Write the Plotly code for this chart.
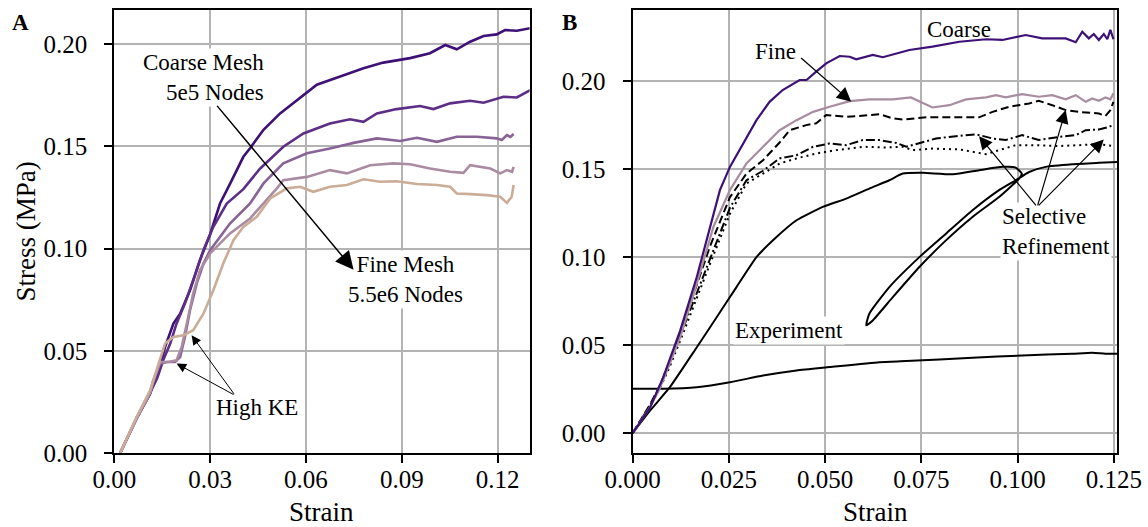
import plotly.graph_objects as go

# ---------------- Panel A : mesh convergence ----------------
a1_strain = [0.0018, 0.007, 0.0112, 0.0122, 0.0143, 0.0159, 0.0185, 0.0206, 0.0237, 0.0268, 0.030, 0.0331,
             0.0363, 0.0404, 0.0425, 0.0467, 0.0519, 0.0571, 0.0634, 0.0707, 0.078, 0.0842, 0.0926, 0.0988,
             0.1036, 0.1072, 0.1114, 0.1156, 0.1197, 0.1223, 0.126, 0.1302]
a1_stress = [0.0, 0.017, 0.029, 0.034, 0.042, 0.052, 0.0634, 0.0682, 0.0796, 0.0943, 0.107, 0.122,
             0.1318, 0.1448, 0.149, 0.158, 0.166, 0.1725, 0.180, 0.184, 0.188, 0.1908, 0.193, 0.1954,
             0.1994, 0.1973, 0.201, 0.2038, 0.2046, 0.2067, 0.2064, 0.2076]

a2_strain = [0.0018, 0.007, 0.0112, 0.0135, 0.0153, 0.0175, 0.0195, 0.0221, 0.0247, 0.0279, 0.031, 0.0352,
             0.0404, 0.0456, 0.0529, 0.0592, 0.0675, 0.0738, 0.078, 0.0822, 0.0884, 0.0957, 0.0999, 0.1051,
             0.1114, 0.1156, 0.1218, 0.126, 0.1302]
a2_stress = [0.0, 0.0175, 0.0295, 0.037, 0.0454, 0.0536, 0.0634, 0.0731, 0.0845, 0.0992, 0.1106, 0.122,
             0.129, 0.139, 0.1497, 0.1562, 0.1611, 0.1631, 0.1619, 0.166, 0.1681, 0.1696, 0.1681, 0.1709,
             0.1722, 0.1712, 0.1741, 0.1738, 0.1774]

a3_strain = [0.0018, 0.007, 0.0112, 0.0122, 0.0143, 0.0164, 0.019, 0.0206, 0.0221, 0.0237, 0.0258, 0.0279,
             0.030, 0.0362, 0.0425, 0.0467, 0.0529, 0.0603, 0.0675, 0.0749, 0.0822, 0.0895, 0.0947, 0.101,
             0.1072, 0.1135, 0.1197, 0.1213, 0.1229, 0.124, 0.125]
a3_stress = [0.0, 0.017, 0.0295, 0.0356, 0.0438, 0.0446, 0.0446, 0.047, 0.0568, 0.0699, 0.0829, 0.0927,
             0.0992, 0.1122, 0.122, 0.1318, 0.1416, 0.1465, 0.1489, 0.1516, 0.1538, 0.1525, 0.1541, 0.1521,
             0.1546, 0.1546, 0.1538, 0.153, 0.1554, 0.1545, 0.1559]

a4_strain = [0.0018, 0.007, 0.0112, 0.0122, 0.0143, 0.0169, 0.0195, 0.0211, 0.0227, 0.0247, 0.0268, 0.030,
             0.0362, 0.0425, 0.0509, 0.0529, 0.0603, 0.0675, 0.0728, 0.0801, 0.0874, 0.0926, 0.0988, 0.1051,
             0.1093, 0.1114, 0.1177, 0.1208, 0.1229, 0.1245, 0.125]
a4_stress = [0.0, 0.017, 0.0295, 0.035, 0.0446, 0.0446, 0.0454, 0.0519, 0.0634, 0.078, 0.0894, 0.0976,
             0.1074, 0.1147, 0.1294, 0.1334, 0.135, 0.1383, 0.1367, 0.1407, 0.1416, 0.1412, 0.1391, 0.1375,
             0.137, 0.1407, 0.1391, 0.1367, 0.1383, 0.1375, 0.1399]

a5_strain = [0.0018, 0.007, 0.0112, 0.0138, 0.0159, 0.0185, 0.0216, 0.0247, 0.0279, 0.031, 0.0341, 0.0373,
             0.0404, 0.0446, 0.0488, 0.054, 0.0582, 0.0623, 0.0675, 0.0728, 0.078, 0.0832, 0.0884, 0.0947,
             0.101, 0.1051, 0.1072, 0.1114, 0.1166, 0.1208, 0.1229, 0.1244, 0.125]
a5_stress = [0.0, 0.0177, 0.0308, 0.0438, 0.0536, 0.0568, 0.0576, 0.0601, 0.0682, 0.0796, 0.0927, 0.1041,
             0.1106, 0.1155, 0.1245, 0.1294, 0.1302, 0.1277, 0.1302, 0.131, 0.1338, 0.1326, 0.1329, 0.1315,
             0.131, 0.1302, 0.1269, 0.1266, 0.1261, 0.1253, 0.1223, 0.1253, 0.131]

a_colors = ["#3d1175", "#5c2e86", "#886396", "#aa8ca2", "#caac97"]

# ---------------- Panel B : selective refinement ----------------
b_coarse_strain = [0, 0.0046, 0.008, 0.0124, 0.0167, 0.0201, 0.0227, 0.0253, 0.0287, 0.0322, 0.0356, 0.039,
                   0.0434, 0.0452, 0.0477, 0.0503, 0.0538, 0.0564, 0.0581, 0.0624, 0.065, 0.0719, 0.0779,
                   0.0849, 0.0918, 0.0961, 0.1021, 0.1064, 0.1125, 0.1151, 0.1168, 0.1185, 0.1198, 0.1211,
                   0.1224, 0.1233, 0.1241, 0.1249]
b_coarse_stress = [0, 0.0148, 0.0319, 0.0584, 0.0887, 0.1171, 0.138, 0.1512, 0.1645, 0.1777, 0.1881, 0.1948,
                   0.2005, 0.2005, 0.2052, 0.2099, 0.2141, 0.2137, 0.2122, 0.2147, 0.2134, 0.2175, 0.2194,
                   0.2222, 0.2236, 0.2232, 0.226, 0.2241, 0.2241, 0.2219, 0.2279, 0.2241, 0.2266, 0.2232,
                   0.2266, 0.2236, 0.2289, 0.2236]

b_fine_strain = [0, 0.0046, 0.0072, 0.0124, 0.0167, 0.021, 0.0253, 0.0296, 0.0339, 0.0382, 0.0426, 0.0469,
                 0.0512, 0.0564, 0.0615, 0.0676, 0.0723, 0.0779, 0.0823, 0.0866, 0.0918, 0.0944, 0.0969,
                 0.1012, 0.1055, 0.109, 0.1125, 0.1151, 0.1177, 0.1194, 0.1211, 0.1228, 0.1241, 0.1249]
b_fine_stress = [0, 0.015, 0.0262, 0.0546, 0.0849, 0.1171, 0.138, 0.1531, 0.1626, 0.172, 0.1777, 0.1824,
                 0.1853, 0.1885, 0.1895, 0.1895, 0.1906, 0.1849, 0.1862, 0.1895, 0.1906, 0.1919, 0.1906,
                 0.1925, 0.191, 0.1919, 0.1895, 0.1919, 0.1881, 0.19, 0.1887, 0.1906, 0.1895, 0.193]

b_sel1_strain = [0, 0.0046, 0.0072, 0.0097, 0.0132, 0.0167, 0.0201, 0.0253, 0.0296, 0.0339, 0.0382, 0.0408,
                 0.0451, 0.0477, 0.0503, 0.0555, 0.0589, 0.0641, 0.0676, 0.0702, 0.0763, 0.0831, 0.09,
                 0.0935, 0.0978, 0.103, 0.1055, 0.109, 0.1125, 0.1159, 0.1211, 0.1228, 0.1241, 0.1249]
b_sel1_stress = [0, 0.0165, 0.0275, 0.041, 0.062, 0.085, 0.106, 0.134, 0.1474, 0.155, 0.165, 0.172,
                 0.1749, 0.1759, 0.1806, 0.1796, 0.18, 0.1811, 0.1787, 0.1781, 0.1793, 0.1793, 0.1793,
                 0.1824, 0.1853, 0.1872, 0.1887, 0.1862, 0.1834, 0.1824, 0.1815, 0.18, 0.1834, 0.1881]

b_sel2_strain = [0, 0.0046, 0.0072, 0.0097, 0.0132, 0.0167, 0.0201, 0.0253, 0.0296, 0.0339, 0.0382, 0.0426,
                 0.0469, 0.0512, 0.0555, 0.0598, 0.0641, 0.0685, 0.0711, 0.0746, 0.0788, 0.084, 0.0892,
                 0.0935, 0.0969, 0.1012, 0.1055, 0.1107, 0.1151, 0.1177, 0.1211, 0.1233, 0.1249]
b_sel2_stress = [0, 0.016, 0.027, 0.04, 0.06, 0.08, 0.099, 0.128, 0.1436, 0.149, 0.156, 0.1578,
                 0.1626, 0.1645, 0.1635, 0.1664, 0.1664, 0.1648, 0.1626, 0.1648, 0.1673, 0.1686, 0.1697,
                 0.1673, 0.1664, 0.1692, 0.1664, 0.1682, 0.1692, 0.172, 0.1724, 0.1736, 0.1749]

b_sel3_strain = [0, 0.0046, 0.0072, 0.0097, 0.0132, 0.0167, 0.0201, 0.0253, 0.0296, 0.0339, 0.0382, 0.0426,
                 0.0477, 0.0529, 0.0598, 0.0659, 0.0702, 0.0728, 0.0779, 0.0849, 0.0883, 0.0918, 0.0952,
                 0.0995, 0.1055, 0.1107, 0.1159, 0.1211, 0.1249]
b_sel3_stress = [0, 0.0155, 0.026, 0.038, 0.057, 0.077, 0.096, 0.1246, 0.1418, 0.1474, 0.1531, 0.156,
                 0.1588, 0.1607, 0.1626, 0.1622, 0.1626, 0.1607, 0.1616, 0.1611, 0.1597, 0.1584, 0.1607,
                 0.1635, 0.1635, 0.163, 0.1635, 0.1641, 0.163]

exp_strain = [0, 0.0046, 0.0097, 0.0167, 0.0219, 0.027, 0.0322, 0.0374, 0.0426, 0.0494, 0.0555, 0.0615,
              0.0667, 0.0702, 0.0754, 0.0832, 0.09, 0.0961, 0.0995, 0.1011, 0.1004, 0.0952, 0.0883, 0.0814,
              0.0745, 0.0676, 0.0624, 0.0607, 0.0615, 0.0667, 0.0745, 0.0814, 0.0883, 0.0952, 0.0995, 0.103,
              0.1073, 0.1142, 0.1211, 0.1259]
exp_stress = [0, 0.013, 0.0262, 0.0489, 0.066, 0.083, 0.1, 0.1114, 0.1209, 0.1285, 0.1332, 0.1389,
              0.1436, 0.1474, 0.1478, 0.147, 0.1493, 0.1512, 0.1508, 0.1474, 0.1446, 0.1341, 0.1228, 0.1095,
              0.0944, 0.0773, 0.0641, 0.0613, 0.0679, 0.083, 0.1, 0.1133, 0.1266, 0.138, 0.1436, 0.1483,
              0.1512, 0.1527, 0.1535, 0.154]

exp_low_strain = [0, 0.008, 0.0167, 0.0253, 0.0339, 0.0426, 0.0512, 0.0641, 0.071, 0.0883, 0.1012, 0.1142,
                  0.1194, 0.1228, 0.1259]
exp_low_stress = [0.0253, 0.0253, 0.0262, 0.029, 0.0328, 0.0357, 0.0376, 0.0404, 0.041, 0.0429, 0.0442, 0.0452,
                  0.0457, 0.0452, 0.0452]

a_xticks = [0.0, 0.03, 0.06, 0.09, 0.12]
b_xticks = [0.0, 0.025, 0.05, 0.075, 0.1, 0.125]
yticks = [0.0, 0.05, 0.10, 0.15, 0.20]

FONT = "Liberation Serif, DejaVu Serif, serif"
W, H = 1148, 527

fig = go.Figure()

for xs, ys, c in zip([a1_strain, a2_strain, a3_strain, a4_strain, a5_strain],
                     [a1_stress, a2_stress, a3_stress, a4_stress, a5_stress], a_colors):
    fig.add_trace(go.Scatter(x=xs, y=ys, mode="lines", line=dict(color=c, width=2.6),
                             xaxis="x", yaxis="y", showlegend=False))

fig.add_trace(go.Scatter(x=exp_low_strain, y=exp_low_stress, mode="lines",
                         line=dict(color="black", width=2, shape="spline", smoothing=0.5),
                         xaxis="x2", yaxis="y2", showlegend=False))
fig.add_trace(go.Scatter(x=exp_strain, y=exp_stress, mode="lines",
                         line=dict(color="black", width=2, shape="spline", smoothing=0.5),
                         xaxis="x2", yaxis="y2", showlegend=False))
fig.add_trace(go.Scatter(x=b_sel3_strain, y=b_sel3_stress, mode="lines",
                         line=dict(color="black", width=2, dash="2px,4px"),
                         xaxis="x2", yaxis="y2", showlegend=False))
fig.add_trace(go.Scatter(x=b_sel2_strain, y=b_sel2_stress, mode="lines",
                         line=dict(color="black", width=2, dash="9px,3px,2px,3px"),
                         xaxis="x2", yaxis="y2", showlegend=False))
fig.add_trace(go.Scatter(x=b_sel1_strain, y=b_sel1_stress, mode="lines",
                         line=dict(color="black", width=2, dash="8px,4px"),
                         xaxis="x2", yaxis="y2", showlegend=False))
fig.add_trace(go.Scatter(x=b_fine_strain, y=b_fine_stress, mode="lines",
                         line=dict(color="#a88c9f", width=2.2),
                         xaxis="x2", yaxis="y2", showlegend=False))
fig.add_trace(go.Scatter(x=b_coarse_strain, y=b_coarse_stress, mode="lines",
                         line=dict(color="#3d1175", width=2.2),
                         xaxis="x2", yaxis="y2", showlegend=False))

axis_common = dict(showgrid=True, gridcolor="#b3b3b3", gridwidth=1.5, showline=True, mirror=True,
                   linecolor="black", linewidth=2, ticks="outside", ticklen=8, tickwidth=1.6,
                   tickcolor="black", zeroline=False, automargin=False,
                   tickfont=dict(family=FONT, size=25, color="black"))

ydom = [(H - 453.3) / H, (H - 10) / H]
fig.update_layout(
    width=W, height=H, margin=dict(l=0, r=0, t=0, b=0),
    paper_bgcolor="white", plot_bgcolor="white",
    font=dict(family=FONT, color="black"),
    xaxis=dict(domain=[114.3 / W, 529.6 / W], range=[0, 0.13], anchor="y",
               tickvals=a_xticks, tickformat=".2f", ticklabelstandoff=-5, **axis_common),
    yaxis=dict(domain=ydom, range=[0, 0.2165], anchor="x", tickvals=yticks, tickformat=".2f",
               ticklabelstandoff=12, **axis_common),
    xaxis2=dict(domain=[632.5 / W, 1117.3 / W], range=[0, 0.1259], anchor="y2",
                tickvals=b_xticks, tickformat=".3f", ticklabelstandoff=-5, **axis_common),
    yaxis2=dict(domain=ydom, range=[-0.0113, 0.2402], anchor="x2", tickvals=yticks, tickformat=".2f",
                ticklabelstandoff=12, **axis_common),
)

ann = []
TF = dict(family=FONT, size=23, color="black")


def text(x, y, t, xref, yref, **kw):
    d = dict(x=x, y=y, text=t, xref=xref, yref=yref, showarrow=False, font=TF, borderpad=1,
             xanchor="center", yanchor="middle")
    d.update(kw)
    ann.append(d)


def arrow(tail, tip, xref, yref, size, width):
    ann.append(dict(x=tip[0], y=tip[1], ax=tail[0], ay=tail[1], xref=xref, yref=yref,
                    axref=xref, ayref=yref, text="", showarrow=True, arrowhead=2,
                    arrowsize=size, arrowwidth=width, arrowcolor="black", standoff=0, startstandoff=0))


# panel A texts and arrows
text(0.0475, 0.1834, "Coarse Mesh<br>5e5 Nodes", "x", "y", xanchor="right", align="right", bgcolor="white")
text(0.0912, 0.0848, "Fine Mesh<br>5.5e6 Nodes", "x", "y", align="center", bgcolor="white")
text(0.0448, 0.0226, "High KE", "x", "y")
arrow((0.0318, 0.1704), (0.0749, 0.0897), "x", "y", 2.4, 1.5)
arrow((0.0378, 0.0283), (0.0195, 0.0438), "x", "y", 1.9, 1.0)
arrow((0.0378, 0.0283), (0.0242, 0.0576), "x", "y", 1.9, 1.0)

# panel B texts and arrows
text(0.0849, 0.2289, "Coarse", "x2", "y2")
text(0.0372, 0.2169, "Fine", "x2", "y2")
text(0.0407, 0.0584, "Experiment", "x2", "y2", bgcolor="white")
text(0.0955, 0.1144, "Selective<br>Refinement", "x2", "y2", xanchor="left", align="left", bgcolor="white")
arrow((0.0434, 0.2137), (0.0568, 0.1881), "x2", "y2", 2.2, 1.3)
arrow((0.1051, 0.1285), (0.0900, 0.1686), "x2", "y2", 2.2, 1.2)
arrow((0.1051, 0.1285), (0.1125, 0.1834), "x2", "y2", 2.2, 1.2)
arrow((0.1051, 0.1285), (0.1224, 0.1668), "x2", "y2", 2.2, 1.2)

# axis titles and panel letters
AF = dict(family=FONT, size=27, color="black")
text(321.9 / W, 1 - 512 / H, "Strain", "paper", "paper", font=AF)
text(875.0 / W, 1 - 512 / H, "Strain", "paper", "paper", font=AF)
text(26 / W, 1 - 231.6 / H, "Stress (MPa)", "paper", "paper", font=AF, textangle=-90)
text(20.5 / W, 1 - 22 / H, "<b>A</b>", "paper", "paper", font=dict(family=FONT, size=23, color="black"))
text(569 / W, 1 - 22 / H, "<b>B</b>", "paper", "paper", font=dict(family=FONT, size=23, color="black"))

fig.update_layout(annotations=ann)
fig.write_html("out.html")
